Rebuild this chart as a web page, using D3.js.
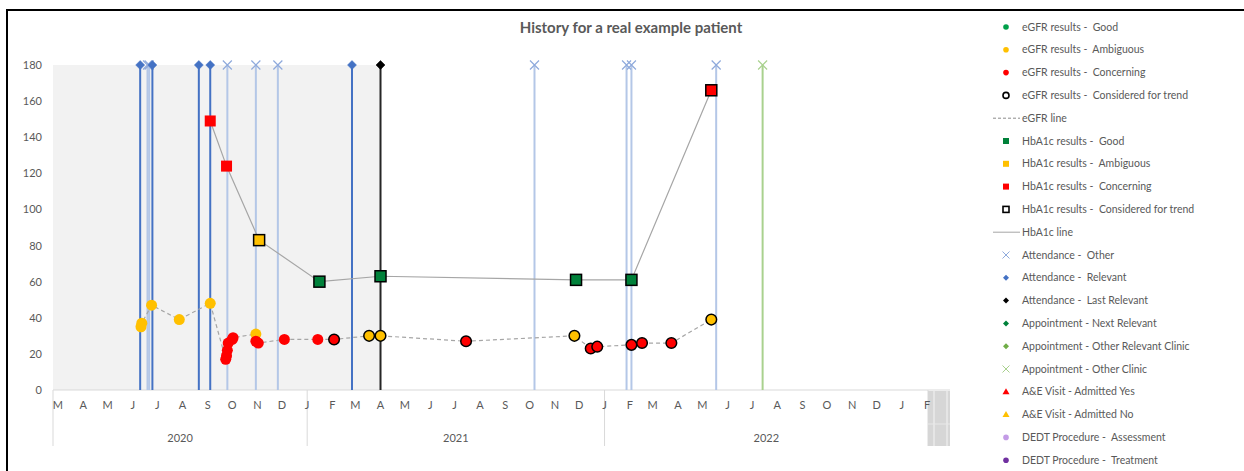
<!DOCTYPE html>
<html>
<head>
<meta charset="utf-8">
<script src="https://cdn.jsdelivr.net/npm/d3@7"></script>
<style>
  body { margin: 0; background: #fff; }
  svg text { font-family: Lato, "Open Sans", sans-serif; fill: #595959; white-space: pre; }
</style>
</head>
<body>
<svg id="chart" width="1244" height="471"></svg>
<script>
// eGFR results: [date, value, status, consideredForTrend]
const egfrData = [
  ['2020-06-11', 35, 'amb', 0], ['2020-06-12', 37, 'amb', 0], ['2020-06-24', 47, 'amb', 0],
  ['2020-07-28', 39, 'amb', 0], ['2020-09-04', 48, 'amb', 0],
  ['2020-09-23', 17, 'con', 0], ['2020-09-24', 19, 'con', 0], ['2020-09-25', 22, 'con', 0],
  ['2020-09-26', 26, 'con', 0], ['2020-10-01', 28, 'con', 0], ['2020-10-02', 29, 'con', 0],
  ['2020-10-30', 31, 'amb', 0], ['2020-10-30', 27, 'con', 0], ['2020-11-02', 26, 'con', 0],
  ['2020-12-04', 28, 'con', 0], ['2021-01-14', 28, 'con', 0], ['2021-02-03', 28, 'con', 1],
  ['2021-03-18', 30, 'amb', 1], ['2021-04-01', 30, 'amb', 1], ['2021-07-15', 27, 'con', 1],
  ['2021-11-25', 30, 'amb', 1], ['2021-12-15', 23, 'con', 1], ['2021-12-23', 24, 'con', 1],
  ['2022-02-03', 25, 'con', 1], ['2022-02-16', 26, 'con', 1], ['2022-03-24', 26, 'con', 1],
  ['2022-05-12', 39, 'amb', 1],
];

// HbA1c results
const hba1cData = [
  ['2020-09-04', 149, 'con', 0], ['2020-09-24', 124, 'con', 0], ['2020-11-03', 83, 'amb', 1],
  ['2021-01-16', 60, 'good', 1], ['2021-04-01', 63, 'good', 1], ['2021-11-27', 61, 'good', 1],
  ['2022-02-03', 61, 'good', 1], ['2022-05-12', 166, 'con', 1],
];

const attendRelevant = ['2020-06-10', '2020-06-25', '2020-08-21', '2020-09-04', '2021-02-25'];
const attendOther = ['2020-06-19', '2020-06-21', '2020-09-25', '2020-10-30', '2020-11-26',
  '2021-10-07', '2022-01-28', '2022-02-03', '2022-05-18'];
const attendLastRelevant = ['2021-04-01'];
const apptOtherClinic = ['2022-07-14'];

const yTicks = [0, 20, 40, 60, 80, 100, 120, 140, 160, 180];
const years = [
  { label: '2020', start: '2020-02-24', end: '2021-01-01' },
  { label: '2021', start: '2021-01-01', end: '2022-01-01' },
  { label: '2022', start: '2022-01-01', end: '2023-02-02' },
];

const legendItems = [
  { label: 'eGFR results -  Good', type: 'circle', color: '#00a04a' },
  { label: 'eGFR results -  Ambiguous', type: 'circle', color: '#ffc000' },
  { label: 'eGFR results -  Concerning', type: 'circle', color: '#ff0000' },
  { label: 'eGFR results -  Considered for trend', type: 'ocircle', color: '#000' },
  { label: 'eGFR line', type: 'dash', color: '#a6a6a6' },
  { label: 'HbA1c results -  Good', type: 'square', color: '#00813a' },
  { label: 'HbA1c results -  Ambiguous', type: 'square', color: '#ffc000' },
  { label: 'HbA1c results -  Concerning', type: 'square', color: '#ff0000' },
  { label: 'HbA1c results -  Considered for trend', type: 'osquare', color: '#000' },
  { label: 'HbA1c line', type: 'line', color: '#a6a6a6' },
  { label: 'Attendance -  Other', type: 'x', color: '#8faadc' },
  { label: 'Attendance -  Relevant', type: 'diamond', color: '#4472c4' },
  { label: 'Attendance -  Last Relevant', type: 'diamond', color: '#000' },
  { label: 'Appointment - Next Relevant', type: 'diamond', color: '#00813a' },
  { label: 'Appointment - Other Relevant Clinic', type: 'diamond', color: '#70ad47' },
  { label: 'Appointment - Other Clinic', type: 'x', color: '#a9d18e' },
  { label: 'A&E Visit - Admitted Yes', type: 'triangle', color: '#ff0000' },
  { label: 'A&E Visit - Admitted No', type: 'triangle', color: '#ffc000' },
  { label: 'DEDT Procedure -  Assessment', type: 'circle', color: '#c39be6' },
  { label: 'DEDT Procedure -  Treatment', type: 'circle', color: '#7030a0' },
];

const statusColor = { good: '#00813a', amb: '#ffc000', con: '#ff0000' };
const parse = d3.timeParse('%Y-%m-%d');

const svg = d3.select('#chart');

// outer frame
svg.append('rect')
  .attr('x', 7).attr('y', 10).attr('width', 1300).attr('height', 500)
  .attr('fill', 'none').attr('stroke', '#000').attr('stroke-width', 2);

const x = d3.scaleTime()
  .domain([parse('2020-02-24'), parse('2023-02-02')])
  .range([53, 928]);
const y = d3.scaleLinear().domain([0, 180]).range([390, 65]);

// title
svg.append('text')
  .attr('x', 631).attr('y', 33)
  .attr('text-anchor', 'middle')
  .style('font-size', '15px').style('font-weight', 'bold')
  .text('History for a real example patient');

// shaded period up to last relevant attendance
svg.append('rect')
  .attr('x', x.range()[0]).attr('y', y(180))
  .attr('width', x(parse(attendLastRelevant[0])) - x.range()[0])
  .attr('height', y(0) - y(180))
  .attr('fill', '#f2f2f2');

// y axis labels
svg.append('g').selectAll('text')
  .data(yTicks)
  .join('text')
  .attr('x', 42).attr('y', (d) => y(d) + 4)
  .attr('text-anchor', 'end')
  .style('font-size', '11px')
  .text((d) => d);

// x axis (two-level category style)
const axisG = svg.append('g');
axisG.append('line')
  .attr('x1', 53).attr('x2', 950).attr('y1', 390).attr('y2', 390)
  .attr('stroke', '#d9d9d9');
const seps = [parse(years[0].start), parse(years[1].start), parse(years[2].start), parse(years[2].end)];
axisG.selectAll('.sep')
  .data(seps)
  .join('line')
  .attr('class', 'sep')
  .attr('x1', (d) => x(d)).attr('x2', (d) => x(d))
  .attr('y1', 390).attr('y2', 446)
  .attr('stroke', '#d9d9d9');
// odd grey stub at the right end of the axis
axisG.append('rect')
  .attr('x', 928).attr('y', 391).attr('width', 22).attr('height', 55)
  .attr('fill', '#d6d6d6');
axisG.selectAll('.stub')
  .data([934, 947])
  .join('line')
  .attr('class', 'stub')
  .attr('x1', (d) => d).attr('x2', (d) => d).attr('y1', 391).attr('y2', 446)
  .attr('stroke', '#f4f4f4').attr('stroke-width', 1);
axisG.append('line')
  .attr('x1', 928).attr('x2', 950).attr('y1', 424).attr('y2', 424)
  .attr('stroke', '#e8e8e8');

const months = d3.timeMonths(parse('2020-03-01'), parse('2023-02-02'));
axisG.selectAll('.month')
  .data(months)
  .join('text')
  .attr('class', 'month')
  .attr('x', (d) => x(d)).attr('y', 409)
  .attr('text-anchor', 'middle')
  .style('font-size', '11px')
  .text((d) => d3.timeFormat('%B')(d)[0]);

axisG.selectAll('.year')
  .data(years)
  .join('text')
  .attr('class', 'year')
  .attr('x', (d) => (x(parse(d.start)) + x(parse(d.end))) / 2)
  .attr('y', 442)
  .attr('text-anchor', 'middle')
  .style('font-size', '11px')
  .text((d) => d.label);

// marker helpers
const diamondPath = (r) => `M0,${-r}L${r},0L0,${r}L${-r},0Z`;
const xPath = (r) => `M${-r},${-r}L${r},${r}M${-r},${r}L${r},${-r}`;

function drawEvents(dates, lineColor, markType, markColor) {
  const g = svg.append('g');
  g.selectAll('line')
    .data(dates)
    .join('line')
    .attr('x1', (d) => x(parse(d))).attr('x2', (d) => x(parse(d)))
    .attr('y1', y(0)).attr('y2', y(180))
    .attr('stroke', lineColor).attr('stroke-width', 2);
  g.selectAll('path')
    .data(dates)
    .join('path')
    .attr('transform', (d) => `translate(${x(parse(d))},${y(180)})`)
    .attr('d', markType === 'x' ? xPath(4.5) : diamondPath(4.5))
    .attr('fill', markType === 'x' ? 'none' : markColor)
    .attr('stroke', markColor)
    .attr('stroke-width', markType === 'x' ? 1.2 : 0.5);
}

drawEvents(attendOther, '#b4c7e7', 'x', '#8faadc');
drawEvents(apptOtherClinic, '#a9d18e', 'x', '#a9d18e');
drawEvents(attendRelevant, '#4472c4', 'diamond', '#4472c4');
drawEvents(attendLastRelevant, '#262626', 'diamond', '#000');

// HbA1c line and squares
const line = d3.line().x((d) => x(parse(d[0]))).y((d) => y(d[1]));
svg.append('path')
  .datum(hba1cData)
  .attr('d', line)
  .attr('fill', 'none').attr('stroke', '#a6a6a6').attr('stroke-width', 1.2);

// eGFR dashed line
svg.append('path')
  .datum(egfrData)
  .attr('d', line)
  .attr('fill', 'none').attr('stroke', '#a6a6a6').attr('stroke-width', 1.2)
  .attr('stroke-dasharray', '4,3');

svg.append('g').selectAll('rect')
  .data(hba1cData)
  .join('rect')
  .attr('x', (d) => x(parse(d[0])) - 5.5).attr('y', (d) => y(d[1]) - 5.5)
  .attr('width', 11).attr('height', 11)
  .attr('fill', (d) => statusColor[d[2]])
  .attr('stroke', (d) => (d[3] ? '#000' : 'none'))
  .attr('stroke-width', 1.5);

svg.append('g').selectAll('circle')
  .data(egfrData)
  .join('circle')
  .attr('cx', (d) => x(parse(d[0]))).attr('cy', (d) => y(d[1]))
  .attr('r', (d) => (d[3] ? 5.3 : 5.5))
  .attr('fill', (d) => statusColor[d[2]])
  .attr('stroke', (d) => (d[3] ? '#000' : 'none'))
  .attr('stroke-width', 1.5);

// legend
const legend = svg.append('g');
const rows = legend.selectAll('g')
  .data(legendItems)
  .join('g')
  .attr('transform', (d, i) => `translate(1006,${27 + i * 22.8})`);

rows.each(function (d) {
  const g = d3.select(this);
  if (d.type === 'circle') {
    g.append('circle').attr('r', 2.8).attr('fill', d.color);
  } else if (d.type === 'ocircle') {
    g.append('circle').attr('r', 3).attr('fill', 'none').attr('stroke', d.color).attr('stroke-width', 1.6);
  } else if (d.type === 'square') {
    g.append('rect').attr('x', -3).attr('y', -3).attr('width', 6).attr('height', 6).attr('fill', d.color);
  } else if (d.type === 'osquare') {
    g.append('rect').attr('x', -3).attr('y', -3).attr('width', 6).attr('height', 6)
      .attr('fill', 'none').attr('stroke', d.color).attr('stroke-width', 1.6);
  } else if (d.type === 'dash' || d.type === 'line') {
    g.append('line').attr('x1', -13).attr('x2', 14).attr('y1', 0).attr('y2', 0)
      .attr('stroke', d.type === 'dash' ? '#8c8c8c' : d.color).attr('stroke-width', 1)
      .attr('stroke-dasharray', d.type === 'dash' ? '3,2' : null);
  } else if (d.type === 'x') {
    g.append('path').attr('d', xPath(3.5)).attr('fill', 'none').attr('stroke', d.color).attr('stroke-width', 1);
  } else if (d.type === 'diamond') {
    g.append('path').attr('d', diamondPath(3)).attr('fill', d.color);
  } else if (d.type === 'triangle') {
    g.append('path').attr('d', 'M0,-3.5L3.5,2.5L-3.5,2.5Z').attr('fill', d.color);
  }
  g.append('text')
    .attr('x', 16).attr('y', 3.5)
    .style('font-size', '10.5px')
    .text(d.label);
});
</script>
</body>
</html>
